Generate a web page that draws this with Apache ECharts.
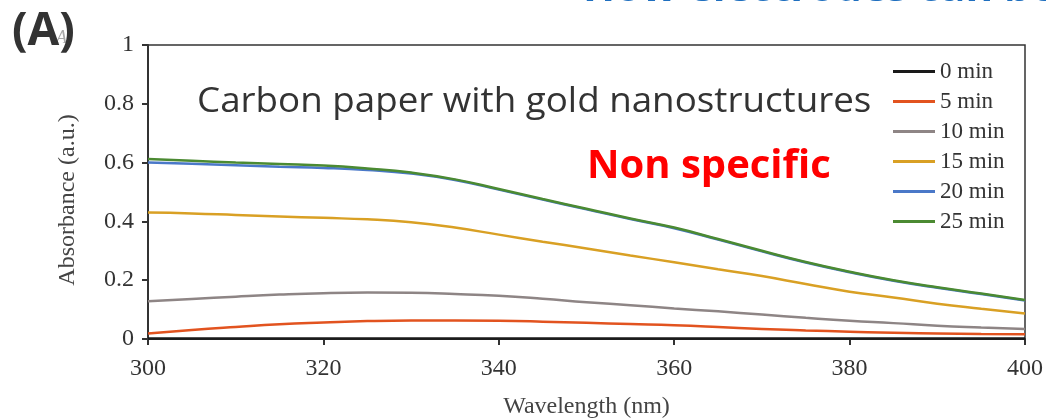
<!DOCTYPE html>
<html>
<head>
<meta charset="utf-8">
<script src="https://cdn.jsdelivr.net/npm/echarts@6/dist/echarts.min.js"></script>
<style>
html,body{margin:0;padding:0;background:#fff;}
#chart{width:1046px;height:419px;}
</style>
</head>
<body>
<div id="chart"></div>
<script>
const wavelengths = [300,305,310,315,320,325,330,335,340,345,350,355,360,365,370,375,380,385,390,395,400];
const seriesNames = ['0 min','5 min','10 min','15 min','20 min','25 min'];
const min0  = [0.002,0.002,0.002,0.002,0.002,0.002,0.002,0.002,0.002,0.002,0.002,0.002,0.002,0.002,0.002,0.002,0.002,0.002,0.002,0.002,0.002];
const min5  = [0.019,0.031,0.041,0.050,0.056,0.061,0.063,0.063,0.062,0.059,0.055,0.051,0.047,0.041,0.034,0.029,0.025,0.021,0.019,0.017,0.016];
const min10 = [0.128,0.136,0.144,0.151,0.156,0.158,0.157,0.153,0.147,0.137,0.125,0.115,0.104,0.094,0.083,0.072,0.062,0.054,0.045,0.039,0.034];
const min15 = [0.430,0.427,0.422,0.417,0.412,0.407,0.397,0.379,0.355,0.331,0.308,0.284,0.261,0.237,0.214,0.187,0.161,0.141,0.120,0.103,0.087];
const min20 = [0.600,0.596,0.591,0.586,0.582,0.575,0.563,0.541,0.508,0.474,0.441,0.408,0.377,0.338,0.298,0.260,0.227,0.198,0.174,0.153,0.131];
const min25 = [0.612,0.606,0.600,0.595,0.590,0.580,0.566,0.543,0.510,0.476,0.443,0.410,0.379,0.340,0.300,0.262,0.229,0.200,0.176,0.155,0.133];
const seriesColors = ['#1a1a1a','#e2531f','#8e8585','#d9a024','#4a78c8','#4b8a32'];
const yTickLabels = ['0','0.2','0.4','0.6','0.8','1'];
const xTickLabels = ['300','320','340','360','380','400'];

const allValues = [min0, min5, min10, min15, min20, min25];
const serif = 'Liberation Serif';

const chart = echarts.init(document.getElementById('chart'), null, {renderer:'canvas'});
chart.setOption({
  animation: false,
  backgroundColor: '#fff',
  grid: {left:148, right:21, top:45, bottom:80, show:true, borderColor:'#333', borderWidth:1.5,
         containLabel:false, outerBoundsMode:'none'},
  legend: {
    orient:'vertical', left:893, top:60, padding:0, itemGap:7, itemWidth:42, itemHeight:3, icon:'rect',
    textStyle:{fontFamily:serif, fontSize:23, color:'#333', lineHeight:20},
    data: seriesNames
  },
  xAxis: {
    type:'value', min:300, max:400, interval:20,
    name:'Wavelength (nm)', nameLocation:'middle', nameGap:56,
    nameTextStyle:{fontFamily:serif, fontSize:24, color:'#444'},
    axisLine:{show:true, lineStyle:{color:'#333', width:2}},
    axisTick:{show:true, length:6, lineStyle:{color:'#333', width:2}},
    axisLabel:{fontFamily:serif, fontSize:24, color:'#333', margin:18,
      formatter:(v)=>xTickLabels[Math.round((v-300)/20)]},
    splitLine:{show:false}
  },
  yAxis: {
    type:'value', min:0, max:1, interval:0.2,
    name:'Absorbance (a.u.)', nameLocation:'middle', nameGap:68,
    nameTextStyle:{fontFamily:serif, fontSize:24, color:'#444', padding:[0,16,0,0]},
    axisLine:{show:true, lineStyle:{color:'#333', width:2}},
    axisTick:{show:true, length:6, lineStyle:{color:'#333', width:2}},
    axisLabel:{fontFamily:serif, fontSize:24, color:'#333', margin:14,
      formatter:(v)=>yTickLabels[Math.round(v/0.2)]},
    splitLine:{show:false}
  },
  series: seriesNames.map((n,i)=>({
    name:n, type:'line', smooth:true, symbol:'none',
    data: wavelengths.map((w,j)=>[w, allValues[i][j]]),
    lineStyle:{color:seriesColors[i], width:2.5},
    itemStyle:{color:seriesColors[i]},
    z: 2+i
  })),
  graphic: [
    {type:'text', left:583, top:-32, style:{text:'How electrodes can be', fontFamily:'Open Sans', fontWeight:'bold', fontSize:42, fill:'#1f6fbf'}},
    {type:'text', left:56, top:29, style:{text:'A.', fontFamily:serif, fontStyle:'italic', fontSize:18, fill:'#aaa'}},
    {type:'text', left:12, top:9, style:{text:'(A)', fontFamily:'Open Sans', fontWeight:'bold', fontSize:46, fill:'#333'}},
    {type:'text', left:197, top:85, scaleX:1.05, style:{text:'Carbon paper with gold nanostructures', fontFamily:'Open Sans', fontSize:35, fill:'#333'}},
    {type:'text', left:587, top:147, style:{text:'Non specific', fontFamily:'Open Sans', fontWeight:'bold', fontSize:40, fill:'#ff0000'}}
  ]
});
</script>
</body>
</html>
